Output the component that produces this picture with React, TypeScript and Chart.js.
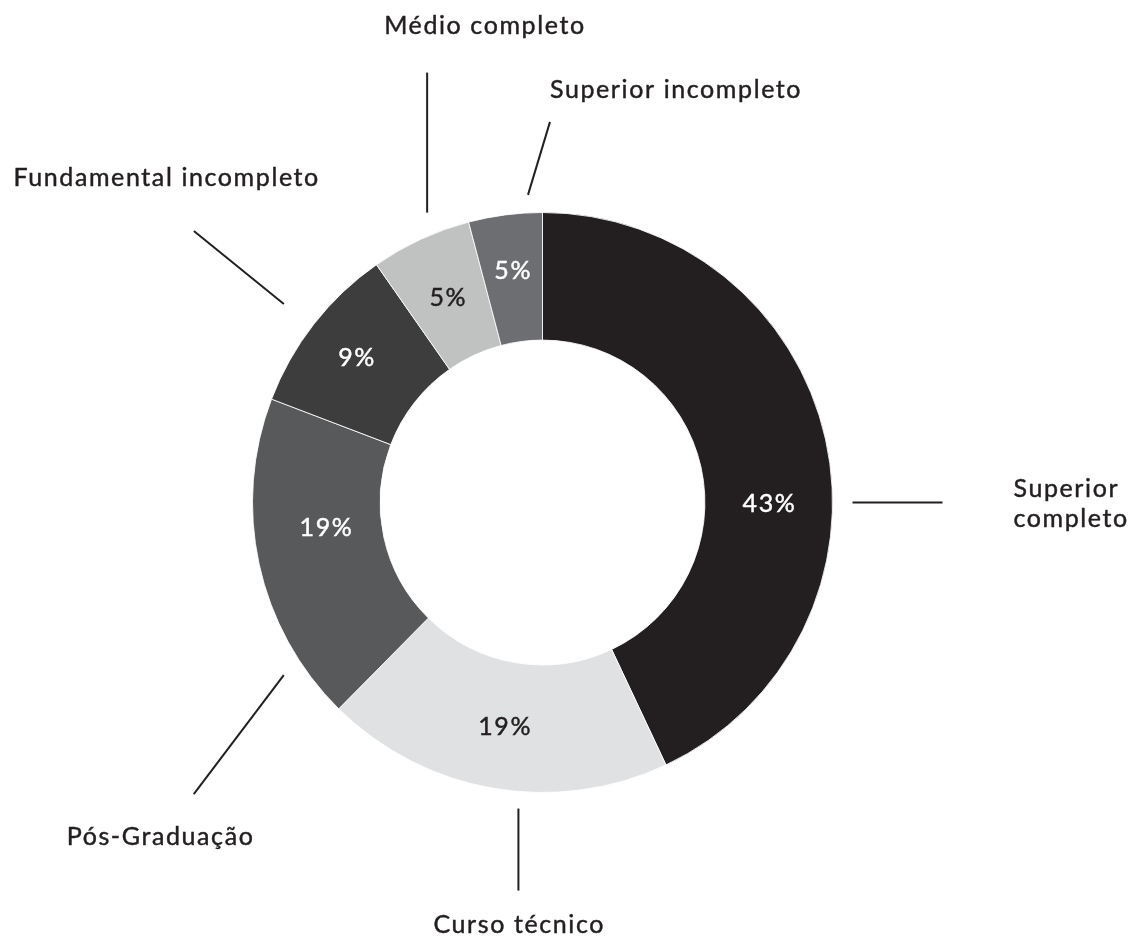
import React, { useEffect, useRef } from 'react';
import { Chart, ArcElement, DoughnutController } from 'chart.js';

Chart.register(ArcElement, DoughnutController);

// ---- data ----
const categories = [
  'Superior completo',
  'Curso técnico',
  'Pós-Graduação',
  'Fundamental incompleto',
  'Médio completo',
  'Superior incompleto',
];
const values = [43, 19.4, 18.4, 9.5, 5.6, 4.1];
const percentLabels = ['43%', '19%', '19%', '9%', '5%', '5%'];

// ---- styles ----
const sliceColors = ['#231f20', '#dfe1e2', '#58595b', '#3d3d3d', '#c0c1c1', '#6d6e71'];
const percentColors = ['#ffffff', '#231f20', '#ffffff', '#ffffff', '#231f20', '#ffffff'];
const labelAngleShift = [12.6, 0, 5.7, 0, 0, 0]; // degrees, clockwise
const labelRadiusShift = [0, 0, -8, 10, 0, 8];
const TEXT_COLOR = '#231f20';
const FONT = '25px Lato';
const LETTER_SPACING = '1.6px';

// callout layout: start angle (deg clockwise from top), gap beyond outer radius,
// line vector, text offset from line end, alignment, wrap
const callouts = [
  { angle: 90, gap: 20, dx: 90, dy: 0, tx: 71, ty: -5.5, align: 'left', wrap: true },
  { angle: 184.5, gap: 17, dx: 0, dy: 82, tx: 0, ty: 42, align: 'center', wrap: false },
  { angle: 236.3, gap: 21, dx: -90, dy: 119, tx: -34, ty: 51, align: 'center', wrap: false },
  { angle: 307.5, gap: 36, dx: -90, dy: -73, tx: -28, ty: -45, align: 'center', wrap: false },
  { angle: 338.3, gap: 22, dx: 0, dy: -140, tx: 57, ty: -39, align: 'center', wrap: false },
  { angle: 357.3, gap: 18, dx: 22, dy: -73, tx: 0, ty: -24, align: 'left', wrap: false },
];

const toCanvasAngle = (deg: number) => (deg * Math.PI) / 180 - Math.PI / 2;

function drawText(ctx: CanvasRenderingContext2D, text: string, x: number, y: number) {
  // compensate trailing letter spacing for centred text
  let ox = 0;
  if (ctx.textAlign === 'center') ox = parseFloat(LETTER_SPACING) / 2;
  ctx.fillText(text, x + ox, y);
  ctx.strokeText(text, x + ox, y);
}

const annotationPlugin = {
  id: 'doughnutAnnotations',
  afterDatasetsDraw(chart: any) {
    const meta = chart.getDatasetMeta(0);
    const ctx: CanvasRenderingContext2D = chart.ctx;
    ctx.save();
    ctx.font = FONT;
    (ctx as any).letterSpacing = LETTER_SPACING;
    ctx.textBaseline = 'middle';
    ctx.textAlign = 'center';
    ctx.lineWidth = 0.45;
    meta.data.forEach((arc: any, i: number) => {
      const p = arc.getProps(['x', 'y', 'startAngle', 'endAngle', 'innerRadius', 'outerRadius'], true);
      const mid = (p.startAngle + p.endAngle) / 2 + (labelAngleShift[i] * Math.PI) / 180;
      const r = (p.innerRadius + p.outerRadius) / 2 + labelRadiusShift[i];
      ctx.fillStyle = percentColors[i];
      ctx.strokeStyle = percentColors[i];
      drawText(ctx, percentLabels[i], p.x + r * Math.cos(mid), p.y + r * Math.sin(mid) + 1);
    });

    // callouts
    const first = meta.data[0].getProps(['x', 'y', 'outerRadius'], true);
    const cx = first.x;
    const cy = first.y;
    const R = first.outerRadius;
    ctx.fillStyle = TEXT_COLOR;
    ctx.textBaseline = 'alphabetic';
    callouts.forEach((c, i) => {
      const a = toCanvasAngle(c.angle);
      const sx = cx + (R + c.gap) * Math.cos(a);
      const sy = cy + (R + c.gap) * Math.sin(a);
      const ex = sx + c.dx;
      const ey = sy + c.dy;
      ctx.strokeStyle = TEXT_COLOR;
      ctx.lineWidth = 2;
      ctx.beginPath();
      ctx.moveTo(sx, sy);
      ctx.lineTo(ex, ey);
      ctx.stroke();
      ctx.lineWidth = 0.45;
      ctx.textAlign = c.align as CanvasTextAlign;
      const lines = c.wrap ? categories[i].split(' ') : [categories[i]];
      lines.forEach((t, k) => {
        drawText(ctx, t, ex + c.tx, ey + c.ty + k * 30);
      });
    });
    ctx.restore();
  },
};

export default function App() {
  const canvasRef = useRef<HTMLCanvasElement | null>(null);

  useEffect(() => {
    document.body.style.margin = '0';
    const canvas = canvasRef.current;
    if (!canvas) return;
    const chart = new Chart(canvas, {
      type: 'doughnut',
      data: {
        labels: categories,
        datasets: [
          {
            data: values,
            backgroundColor: sliceColors,
            borderColor: 'rgba(255,255,255,0.85)',
            borderWidth: 1,
            hoverOffset: 0,
          },
        ],
      },
      options: {
        animation: false,
        responsive: false,
        maintainAspectRatio: false,
        cutout: '56%',
        layout: { padding: { top: 212, bottom: 145, left: 252, right: 305 } },
        plugins: {
          legend: { display: false },
          tooltip: { enabled: false },
        },
      },
      plugins: [annotationPlugin],
    });
    return () => chart.destroy();
  }, []);

  return (
    <div style={{ width: 1138, height: 938, background: '#ffffff' }}>
      <canvas ref={canvasRef} width={1138} height={938} style={{ width: 1138, height: 938, display: 'block' }} />
    </div>
  );
}
